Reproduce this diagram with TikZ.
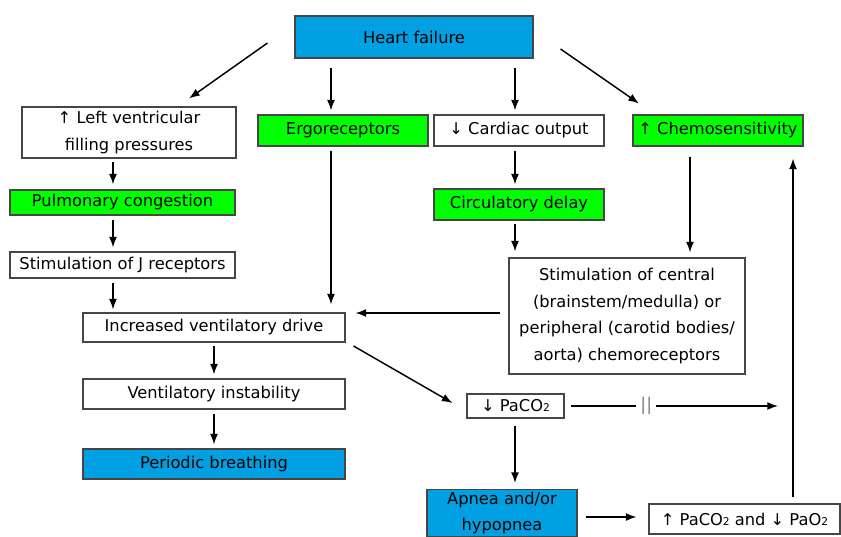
\documentclass[tikz,border=0pt]{standalone}
\usepackage{fontspec}
\setmainfont{DejaVu Sans}
\usetikzlibrary{calc,arrows.meta}

\definecolor{hfblue}{RGB}{0,160,227}
\definecolor{hfgreen}{RGB}{0,255,0}
\definecolor{edge}{RGB}{70,70,70}

\tikzset{
  box/.style={draw=edge,line width=0.8pt,fill=white,inner sep=2pt,align=center,
    font=\fontsize{12.2}{20}\selectfont},
  bluebox/.style={box,fill=hfblue},
  greenbox/.style={box,fill=hfgreen},
  arr/.style={line width=1.1pt,-{Latex[length=8pt,width=6pt]}}
}
\newcommand{\two}{{\fontsize{8}{8}\selectfont 2}}

\begin{document}
\begin{tikzpicture}[x=0.75pt,y=-0.75pt]
\useasboundingbox (0,0) rectangle (841,536);

% top
\node[bluebox,minimum width=178.5pt,minimum height=31.5pt] (hf) at (414,37) {Heart failure};

% second row
\node[box,minimum width=160.5pt,minimum height=38.25pt] (lvfp) at (129,132.5) {↑ Left ventricular\\filling pressures};
\node[greenbox,minimum width=127.5pt,minimum height=23.25pt] (ergo) at (343,130.5) {Ergoreceptors};
\node[box,minimum width=127.5pt,minimum height=23.25pt] (cardiac) at (519,130.5) {↓ Cardiac output};
\node[greenbox,minimum width=127.5pt,minimum height=23.25pt] (chemo) at (718,130.5) {↑ Chemosensitivity};

% left column
\node[greenbox,minimum width=168.75pt,minimum height=18.75pt] (pulm) at (122.5,202.5) {Pulmonary congestion};
\node[box,minimum width=168.75pt,minimum height=19.5pt] (jrec) at (122.5,265) {Stimulation of J receptors};
\node[box,minimum width=196.5pt,minimum height=21.75pt] (ivd) at (214,327.5) {Increased ventilatory drive};
\node[box,minimum width=196.5pt,minimum height=22.5pt] (instab) at (214,394) {Ventilatory instability};
\node[bluebox,minimum width=196.5pt,minimum height=22.5pt] (periodic) at (214,464) {Periodic breathing};

% right part
\node[greenbox,minimum width=127.5pt,minimum height=23.25pt] (circ) at (519,204.5) {Circulatory delay};
\node[box,minimum width=177pt,minimum height=87pt] (stim) at (627,316) {Stimulation of central\\(brainstem/medulla) or\\peripheral (carotid bodies/\\aorta) chemoreceptors};
\node[box,minimum width=72.75pt,minimum height=18pt] (paco) at (515.5,406) {↓ PaCO\two};
\node[bluebox,minimum width=112.5pt,minimum height=35.25pt,font=\fontsize{12.2}{19}\selectfont] (apnea) at (502,513) {Apnea and/or\\hypopnea};
\node[box,minimum width=143.25pt,minimum height=22.5pt] (hyper) at (744.5,519) {↑ PaCO\two{} and ↓ PaO\two};

\coordinate (tip) at (778,406);

% connectors
\draw[arr] ($(hf.west)+(-27,6)$) -- ($(lvfp.north)+(60,-8)$);
\draw[arr] ($(hf.south -| ergo.north)+(-12,9)$) -- ($(ergo.north)+(-12,-4)$);
\draw[arr] ($(hf.south -| cardiac.north)+(-4,9)$) -- ($(cardiac.north)+(-4,-4)$);
\draw[arr] ($(hf.east)+(27,12)$) -- ($(chemo.north)+(-79,-11)$);

\draw[arr] ($(lvfp.south)+(-16,3)$) -- ($(pulm.north)+(-9.5,-5)$);
\draw[arr] ($(pulm.south)+(-9.5,4)$) -- ($(jrec.north)+(-9.5,-4)$);
\draw[arr] ($(jrec.south)+(-9.5,4)$) -- ($(ivd.north)+(-101,-3)$);
\draw[arr] ($(ergo.south)+(-12,4)$) -- ($(ivd.north)+(117,-8)$);
\draw[arr] ($(ivd.south)+(0,3)$) -- ($(instab.north)+(0,-4)$);
\draw[arr] ($(instab.south)+(0,4)$) -- ($(periodic.north)+(0,-4)$);

\draw[arr] ($(cardiac.south)+(-4,4)$) -- ($(circ.north)+(-4,-4)$);
\draw[arr] ($(circ.south)+(-4,3)$) -- ($(stim.north)+(-112,-6)$);
\draw[arr] ($(chemo.south)+(-28,10)$) -- ($(stim.north)+(63,-5)$);
\draw[arr] ($(stim.west)+(-8,-3)$) -- ($(ivd.east)+(10,-14.5)$);
\draw[arr] ($(ivd.east)+(8,18.5)$) -- ($(paco.west)+(-14,-3)$);

\draw[arr] ($(paco.south)+(-0.5,7)$) -- ($(apnea.north)+(13,-6)$);
\draw[arr] ($(paco.east)+(6,0)$) -- node[pos=0.365,fill=white,inner sep=3pt,text=gray,font=\fontsize{13}{13}\selectfont] (block) {||} (tip);
\draw[arr] ($(apnea.east)+(8,4)$) -- ($(hyper.west)+(-12,-2)$);
\draw[arr] ($(hyper.north)+(48.5,-6)$) -- ($(chemo.south)+(75,12)$);

\end{tikzpicture}
\end{document}
